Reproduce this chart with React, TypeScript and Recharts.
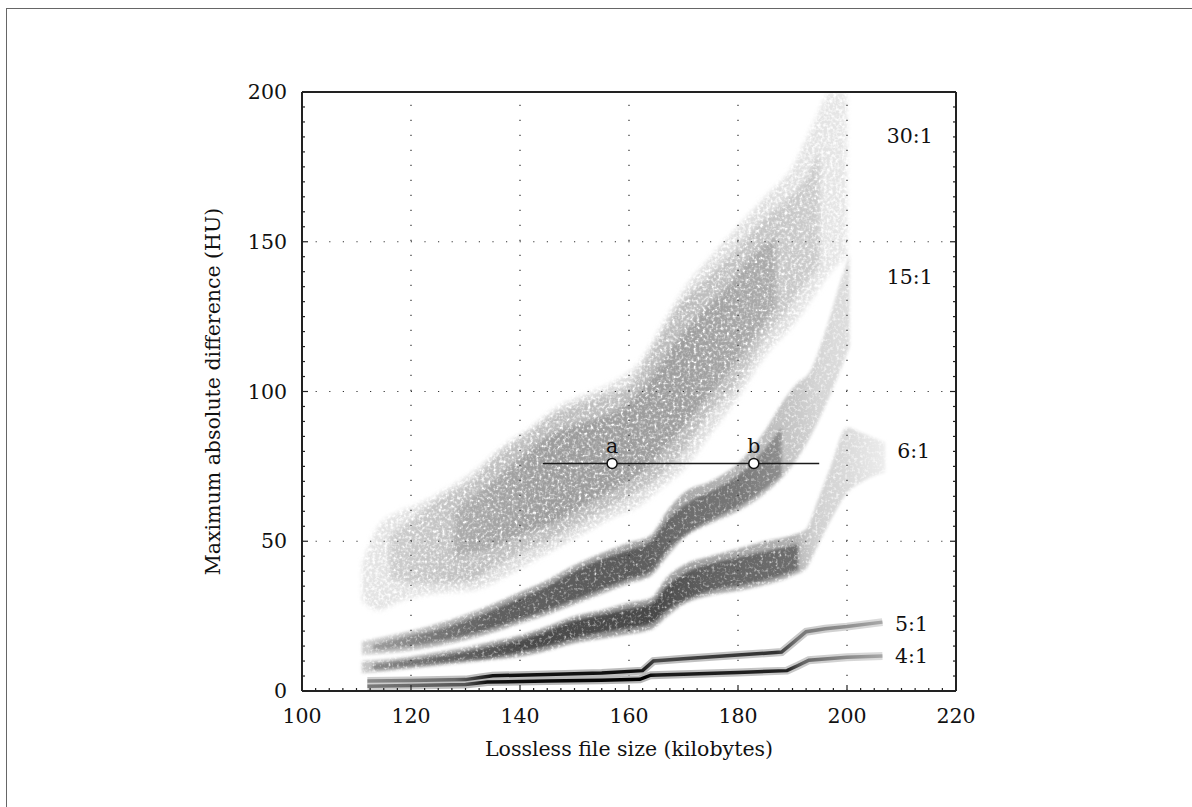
import React from 'react';
import { ComposedChart, Area, Line, Scatter, XAxis, YAxis, ReferenceLine } from 'recharts';

const W = 1192;
const H = 807;
const FONT = '"DejaVu Serif", "Liberation Serif", serif';
const FS = 20.5;

// ---------- axes ----------
const xMajorTicks = [100, 120, 140, 160, 180, 200, 220];
const yMajorTicks = [0, 50, 100, 150, 200];
const xGridValues = [120, 140, 160, 180, 200];
const yGridValues = [50, 100, 150];
const xMinorStep = 2.5;
const yMinorStep = 5;
const xAllTicks = Array.from({ length: (220 - 100) / xMinorStep + 1 }, (_, i) => 100 + i * xMinorStep);
const yAllTicks = Array.from({ length: (200 - 0) / yMinorStep + 1 }, (_, i) => i * yMinorStep);

// ---------- 30:1 cloud ----------
const r30OuterX = [111, 114, 118, 122, 127, 132, 137, 142, 147, 152, 157, 162, 166, 170, 175, 180, 185, 190, 194, 197, 200];
const r30OuterLo = [30, 27, 30, 32, 33, 34, 38, 43, 48, 53, 58, 62, 68, 74, 86, 98, 112, 122, 132, 140, 145];
const r30OuterHi = [42, 55, 60, 63, 68, 74, 82, 88, 95, 99, 103, 110, 122, 134, 145, 155, 165, 175, 190, 200, 200];

const r30MainX = [116, 120, 125, 131, 136, 140, 146, 151, 156, 160, 165, 169, 175, 180, 185, 189, 192, 195];
const r30MainLo = [38, 36, 36, 37, 42, 46, 51, 56, 61, 65, 71, 78, 93, 103, 118, 127, 135, 142];
const r30MainHi = [52, 57, 64, 70, 79, 84, 92, 96, 99, 102, 116, 128, 139, 148, 158, 164, 170, 180];

const r30CoreX = [128, 135, 140, 146, 152, 158, 163, 168, 173, 178, 183, 187];
const r30CoreLo = [45, 48, 52, 56, 62, 68, 74, 84, 95, 106, 118, 128];
const r30CoreHi = [60, 70, 78, 86, 90, 94, 102, 115, 126, 135, 146, 152];

// ---------- 15:1 band ----------
const r15OuterX = [111, 115, 120, 125, 130, 135, 140, 145, 150, 155, 160, 164, 167, 170, 175, 180, 185, 188, 191, 193, 196, 199, 200.5];
const r15OuterLo = [12, 12.5, 13.5, 15, 17, 19.5, 22.5, 25.5, 29, 32.5, 36, 38.5, 45, 51, 56, 60, 66, 71, 78, 84, 95, 108, 115];
const r15OuterHi = [16.5, 18, 20, 22.5, 25.5, 29, 33, 37, 42, 46, 49.5, 52, 60, 66, 70, 76, 87, 96, 103, 106, 120, 138, 146];

const r15CoreX = [113, 120, 125, 130, 135, 140, 145, 150, 155, 160, 164, 167, 171, 176, 180, 185, 188];
const r15CoreLo = [13.5, 15, 16.5, 18.5, 21, 24, 27, 30.5, 34, 37.5, 40, 47, 53, 58, 61.5, 67.5, 72];
const r15CoreHi = [15.5, 18.5, 20.5, 23.5, 27, 31, 35, 40, 44, 47, 50, 57, 63, 67.5, 72, 81, 88];

// ---------- 6:1 band ----------
const r6OuterX = [111, 115, 120, 125, 130, 135, 140, 145, 150, 155, 160, 164, 167, 170, 175, 180, 185, 190, 192.5, 194.5, 197, 200, 203, 207];
const r6OuterLo = [6, 6.5, 7.5, 8.5, 9.5, 10.5, 11.5, 13.5, 16, 17.5, 19, 20.5, 25, 29, 32, 33.5, 35.5, 38.5, 41, 48, 57, 66, 70, 73];
const r6OuterHi = [10, 10.5, 11.5, 13, 14.5, 16.5, 18.5, 21.5, 25, 27, 29.5, 31, 38, 42, 45, 47.5, 50, 52, 54, 63, 75, 88, 86, 83];

const r6CoreX = [113, 120, 125, 130, 135, 140, 145, 150, 155, 160, 164, 167, 171, 176, 181, 186, 191];
const r6CoreLo = [7, 8.3, 9.3, 10.3, 11.3, 13, 15, 17.5, 19.5, 21, 22.5, 27, 31, 34, 35.5, 37.5, 40.5];
const r6CoreHi = [9, 10.5, 11.8, 13.2, 15, 17, 20, 23.5, 25.5, 27.5, 29, 35, 40, 43, 45, 47, 49];

// ---------- 5:1 and 4:1 lines ----------
const r5X = [112, 120, 130, 133, 135, 145, 155, 162.5, 164.5, 170, 180, 188, 190, 192.5, 196, 200, 206.5];
const r5Y = [3.3, 3.5, 3.8, 4.6, 5.1, 5.5, 6.0, 6.8, 10.0, 10.8, 12.0, 13.0, 16, 19.8, 20.8, 21.5, 23];
const r4X = [112, 120, 130, 134, 145, 155, 162, 164, 170, 180, 189, 191, 193, 200, 206.5];
const r4Y = [1.6, 1.8, 2.2, 3.0, 3.3, 3.6, 3.9, 5.3, 5.6, 6.2, 6.8, 8.5, 10.3, 11.3, 11.7];

// ---------- annotations ----------
const abLineX = [144.2, 194.9];
const abLineY = [76, 76];
const markNames = ['a', 'b'];
const markX = [156.9, 182.9];
const markY = [76, 76];

const ratioLabels = ['30:1', '15:1', '6:1', '5:1', '4:1'];
const ratioLabelX = [207.3, 207.3, 209.2, 208.8, 208.8];
const ratioLabelY = [185.6, 138.4, 80.1, 22.5, 11.7];

// ---------- build rows ----------
const rangeRows = (xs: number[], lo: number[], hi: number[]) => xs.map((x, i) => ({ x, r: [lo[i], hi[i]] }));
const lineRows = (xs: number[], ys: number[]) => xs.map((x, i) => ({ x, v: ys[i] }));

const r30Outer = rangeRows(r30OuterX, r30OuterLo, r30OuterHi);
const r30Main = rangeRows(r30MainX, r30MainLo, r30MainHi);
const r30Core = rangeRows(r30CoreX, r30CoreLo, r30CoreHi);
const r15Outer = rangeRows(r15OuterX, r15OuterLo, r15OuterHi);
const r15Core = rangeRows(r15CoreX, r15CoreLo, r15CoreHi);
const r6Outer = rangeRows(r6OuterX, r6OuterLo, r6OuterHi);
const r6Core = rangeRows(r6CoreX, r6CoreLo, r6CoreHi);
const r5Rows = lineRows(r5X, r5Y);
const r4Rows = lineRows(r4X, r4Y);
const abRows = lineRows(abLineX, abLineY);
const markRows = markNames.map((n, i) => ({ x: markX[i], y: markY[i], name: n }));
const labelRows = ratioLabels.map((t, i) => ({ x: ratioLabelX[i], y: ratioLabelY[i], t }));

// ---------- shading (style) ----------
type Stop = [number, string];
const shade: Record<string, { xs: number[]; stops: Stop[] }> = {
  g30o: { xs: r30OuterX, stops: [[111, '#e4e4e4'], [140, '#dcdcdc'], [185, '#dedede'], [200, '#e6e6e6']] },
  g30m: { xs: r30MainX, stops: [[116, '#cdcdcd'], [130, '#c0c0c0'], [170, '#bcbcbc'], [195, '#cccccc']] },
  g30c: { xs: r30CoreX, stops: [[128, '#acacac'], [145, '#9c9c9c'], [170, '#9e9e9e'], [187, '#acacac']] },
  g15o: { xs: r15OuterX, stops: [[111, '#cecece'], [125, '#b4b4b4'], [140, '#a4a4a4'], [165, '#a4a4a4'], [180, '#b4b4b4'], [190, '#c6c6c6'], [195, '#d6d6d6'], [200.5, '#dedede']] },
  g15c: { xs: r15CoreX, stops: [[113, '#9c9c9c'], [125, '#767676'], [135, '#606060'], [160, '#5a5a5a'], [170, '#6c6c6c'], [180, '#787878'], [188, '#8e8e8e']] },
  g6o: { xs: r6OuterX, stops: [[111, '#c6c6c6'], [130, '#acacac'], [140, '#989898'], [165, '#9c9c9c'], [190, '#b0b0b0'], [194, '#d0d0d0'], [200, '#dadada'], [207, '#ececec']] },
  g6c: { xs: r6CoreX, stops: [[113, '#888888'], [125, '#686868'], [140, '#4c4c4c'], [165, '#4a4a4a'], [175, '#626262'], [191, '#6e6e6e']] },
  g5h: { xs: r5X, stops: [[112, '#cfcfcf'], [133, '#bdbdbd'], [163, '#bdbdbd'], [190, '#c8c8c8'], [206.5, '#dcdcdc']] },
  g5c: { xs: r5X, stops: [[112, '#8a8a8a'], [128, '#6a6a6a'], [133, '#2a2a2a'], [135, '#111111'], [162, '#111111'], [165, '#484848'], [175, '#3c3c3c'], [187, '#333333'], [191, '#777777'], [200, '#909090'], [206.5, '#a8a8a8']] },
  g4h: { xs: r4X, stops: [[112, '#cfcfcf'], [134, '#b8b8b8'], [163, '#b8b8b8'], [190, '#c8c8c8'], [206.5, '#dcdcdc']] },
  g4c: { xs: r4X, stops: [[112, '#7a7a7a'], [130, '#555555'], [134, '#111111'], [163, '#000000'], [165, '#1a1a1a'], [189, '#222222'], [192, '#666666'], [200, '#8a8a8a'], [206.5, '#a8a8a8']] },
};

const Defs = () => (
  <defs>
    {Object.entries(shade).map(([id, { xs, stops }]) => {
      const x0 = Math.min(...xs);
      const x1 = Math.max(...xs);
      return (
        <linearGradient key={id} id={id} x1="0" y1="0" x2="1" y2="0">
          {stops.map(([x, c], i) => (
            <stop key={i} offset={Math.max(0, Math.min(1, (x - x0) / (x1 - x0)))} stopColor={c} />
          ))}
        </linearGradient>
      );
    })}
    <filter id="speckle" x="-5%" y="-5%" width="110%" height="110%">
      <feGaussianBlur in="SourceGraphic" stdDeviation="2.5" result="b" />
      <feTurbulence type="fractalNoise" baseFrequency="0.33" numOctaves="2" seed="4" result="n" />
      <feColorMatrix in="n" type="matrix" values="0 0 0 0 0  0 0 0 0 0  0 0 0 0 0  0 0 0 2.6 -0.55" result="m" />
      <feComposite in="b" in2="m" operator="in" />
    </filter>
    <filter id="soft" x="-5%" y="-5%" width="110%" height="110%">
      <feGaussianBlur in="SourceGraphic" stdDeviation="1.6" result="b" />
      <feTurbulence type="fractalNoise" baseFrequency="0.33" numOctaves="2" seed="9" result="n" />
      <feColorMatrix in="n" type="matrix" values="0 0 0 0 0  0 0 0 0 0  0 0 0 0 0  0 0 0 2.2 -0.1" result="m" />
      <feComposite in="b" in2="m" operator="in" />
    </filter>
  </defs>
);

// ---------- ticks ----------
const isMajorX = (v: number) => xMajorTicks.includes(v);
const isMajorY = (v: number) => yMajorTicks.includes(v);
const TICK_COLOR = '#222';

const BottomTick = (p: any) => {
  const major = isMajorX(p.payload.value);
  return (
    <g>
      <line x1={p.x} x2={p.x} y1={p.y} y2={p.y - (major ? 6 : 3)} stroke={TICK_COLOR} strokeWidth={1.2} />
      {major && (
        <text x={p.x} y={p.y + 32} textAnchor="middle" fontFamily={FONT} fontSize={FS} fill="#111">
          {p.payload.value}
        </text>
      )}
    </g>
  );
};
const TopTick = (p: any) => {
  const major = isMajorX(p.payload.value);
  return <line x1={p.x} x2={p.x} y1={p.y} y2={p.y + (major ? 6 : 3)} stroke={TICK_COLOR} strokeWidth={1.2} />;
};
const LeftTick = (p: any) => {
  const major = isMajorY(p.payload.value);
  return (
    <g>
      <line x1={p.x} x2={p.x + (major ? 6 : 3)} y1={p.y} y2={p.y} stroke={TICK_COLOR} strokeWidth={1.2} />
      {major && (
        <text x={p.x - 15} y={p.y + 7} textAnchor="end" fontFamily={FONT} fontSize={FS} fill="#111">
          {p.payload.value}
        </text>
      )}
    </g>
  );
};
const RightTick = (p: any) => {
  const major = isMajorY(p.payload.value);
  return <line x1={p.x} x2={p.x - (major ? 6 : 3)} y1={p.y} y2={p.y} stroke={TICK_COLOR} strokeWidth={1.2} />;
};

const MarkShape = (p: any) => (
  <g>
    <circle cx={p.cx} cy={p.cy} r={5} fill="#fff" stroke="#111" strokeWidth={1.5} />
    <text x={p.cx} y={p.cy - 10} textAnchor="middle" fontFamily={FONT} fontSize={FS} fill="#111">
      {p.payload.name}
    </text>
  </g>
);
const LabelShape = (p: any) => (
  <text x={p.cx} y={p.cy} dy="0.36em" textAnchor="start" fontFamily={FONT} fontSize={FS} fill="#111">
    {p.payload.t}
  </text>
);

const axisLine = { stroke: '#222', strokeWidth: 2 };

const bandArea = (key: string, data: any[], grad: string, filter: string) => (
  <Area
    key={key}
    data={data}
    dataKey="r"
    type="monotone"
    stroke="none"
    fill={`url(#${grad})`}
    fillOpacity={1}
    filter={`url(#${filter})`}
    dot={false}
    activeDot={false}
    isAnimationActive={false}
  />
);

export default function App() {
  return (
    <div style={{ position: 'absolute', left: 0, top: 0, width: W, height: H, overflow: 'hidden', background: '#fff' }}>
      <div
        style={{
          position: 'absolute',
          left: 6,
          top: 8,
          width: W - 6,
          height: H - 8,
          borderTop: '1px solid #666',
          borderLeft: '1px solid #666',
          boxSizing: 'border-box',
        }}
      />
      <div style={{ position: 'absolute', left: 0, top: 0 }}>
        <ComposedChart width={W} height={H} margin={{ top: 91, right: 235, bottom: 115, left: 301 }}>
          <Defs />
          <XAxis
            dataKey="x"
            type="number"
            domain={[100, 220]}
            allowDataOverflow
            ticks={xAllTicks}
            interval={0}
            tick={BottomTick}
            tickLine={false}
            tickSize={0}
            tickMargin={0}
            axisLine={axisLine}
            height={1}
          />
          <XAxis
            xAxisId="top"
            orientation="top"
            type="number"
            domain={[100, 220]}
            allowDataOverflow
            ticks={xAllTicks}
            interval={0}
            tick={TopTick}
            tickLine={false}
            tickSize={0}
            tickMargin={0}
            axisLine={axisLine}
            height={1}
          />
          <YAxis
            type="number"
            domain={[0, 200]}
            allowDataOverflow
            ticks={yAllTicks}
            interval={0}
            tick={LeftTick}
            tickLine={false}
            tickSize={0}
            tickMargin={0}
            axisLine={axisLine}
            width={1}
          />
          <YAxis
            yAxisId="right"
            orientation="right"
            type="number"
            domain={[0, 200]}
            allowDataOverflow
            ticks={yAllTicks}
            interval={0}
            tick={RightTick}
            tickLine={false}
            tickSize={0}
            tickMargin={0}
            axisLine={axisLine}
            width={1}
          />
          {bandArea('a30o', r30Outer, 'g30o', 'speckle')}
          {bandArea('a30m', r30Main, 'g30m', 'speckle')}
          {bandArea('a30c', r30Core, 'g30c', 'speckle')}
          {bandArea('a15o', r15Outer, 'g15o', 'soft')}
          {bandArea('a15c', r15Core, 'g15c', 'soft')}
          {bandArea('a6o', r6Outer, 'g6o', 'soft')}
          {bandArea('a6c', r6Core, 'g6c', 'soft')}
          {xGridValues.map((v) => (
            <ReferenceLine key={'gx' + v} x={v} stroke="#333" strokeWidth={1.2} strokeDasharray="1.2 13.8" />
          ))}
          {yGridValues.map((v) => (
            <ReferenceLine key={'gy' + v} y={v} stroke="#333" strokeWidth={1.2} strokeDasharray="1.2 12.4" />
          ))}
          <Line data={r5Rows} dataKey="v" type="linear" stroke="url(#g5h)" strokeWidth={8} dot={false} activeDot={false} isAnimationActive={false} />
          <Line data={r4Rows} dataKey="v" type="linear" stroke="url(#g4h)" strokeWidth={8} dot={false} activeDot={false} isAnimationActive={false} />
          <Line data={r5Rows} dataKey="v" type="linear" stroke="url(#g5c)" strokeWidth={3.5} dot={false} activeDot={false} isAnimationActive={false} />
          <Line data={r4Rows} dataKey="v" type="linear" stroke="url(#g4c)" strokeWidth={3.5} dot={false} activeDot={false} isAnimationActive={false} />
          <Line data={abRows} dataKey="v" type="linear" stroke="#1a1a1a" strokeWidth={1.5} dot={false} activeDot={false} isAnimationActive={false} />
          <Scatter data={markRows} dataKey="y" shape={MarkShape} isAnimationActive={false} />
          <Scatter data={labelRows} dataKey="y" shape={LabelShape} isAnimationActive={false} />
          <text x={629} y={756} textAnchor="middle" fontFamily={FONT} fontSize={FS} fill="#111">
            Lossless file size (kilobytes)
          </text>
          <text
            x={220}
            y={391.5}
            textAnchor="middle"
            fontFamily={FONT}
            fontSize={FS}
            fill="#111"
            transform="rotate(-90, 220, 391.5)"
          >
            Maximum absolute difference (HU)
          </text>
        </ComposedChart>
      </div>
    </div>
  );
}
